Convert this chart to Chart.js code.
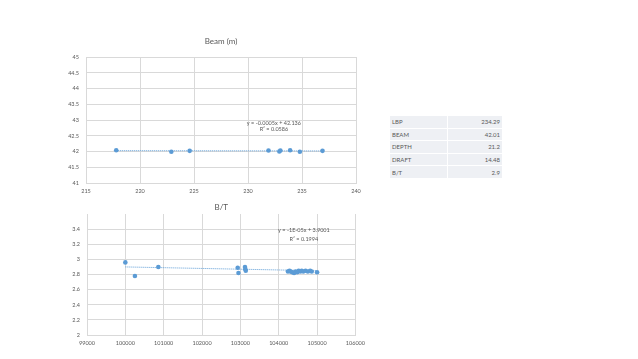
<!DOCTYPE html>
<html lang="en">
<head>
  <meta charset="UTF-8">
  <title>Beam and B/T</title>
  <script src="https://cdn.jsdelivr.net/npm/chart.js"></script>
  <style>
    body {
      margin: 0;
      background: #ffffff;
      font-family: Lato, "Open Sans", sans-serif;
      width: 638px;
      height: 359px;
      overflow: hidden;
      position: relative;
    }
    .box { position: absolute; }
    #box1 { left: 0; top: 0; width: 370px; height: 200px; }
    #box2 { left: 0; top: 200px; width: 370px; height: 159px; }
    /* summary table on the right */
    #summary {
      position: absolute;
      left: 390px;
      top: 116px;
      width: 112px;
      border-collapse: collapse;
      font-size: 6px;
      color: #595959;
    }
    #summary td {
      background: #eef0f4;
      height: 11.6px;
      padding: 0 2px;
      border-bottom: 1px solid #ffffff;
    }
    #summary td:first-child { border-right: 1px solid #ffffff; }
    #summary td.v { text-align: right; }
  </style>
</head>
<body>
  <div class="box" id="box1"><canvas id="beamChart"></canvas></div>
  <div class="box" id="box2"><canvas id="btChart"></canvas></div>
  <table id="summary"><tbody></tbody></table>

  <script>
    // Beam (m) against LBP
    const beamX = [217.8, 222.9, 224.6, 231.9, 232.9, 233.0, 233.9, 234.8, 236.9];
    const beamY = [42.04, 41.99, 42.02, 42.03, 42.00, 42.03, 42.04, 41.99, 42.02];
    const beamFit = [-0.0005, 42.136];           // slope, intercept
    const beamFitText = ['y = -0.0005x + 42.136', 'R² = 0.0586'];

    // B/T against displacement
    const btX = [100000, 100250, 100860, 102930, 102950, 103120, 103130, 103140,
                 104240, 104280, 104310, 104350, 104400, 104440, 104480, 104520,
                 104560, 104600, 104640, 104700, 104760, 104820, 104860, 105000];
    const btY = [2.96, 2.78, 2.90, 2.89, 2.82, 2.90, 2.87, 2.85,
                 2.84, 2.85, 2.84, 2.83, 2.82, 2.84, 2.83, 2.85,
                 2.84, 2.85, 2.84, 2.85, 2.84, 2.85, 2.84, 2.83];
    const btFit = [-1e-5, 3.9001];
    const btFitText = ['y = -1E-05x + 3.9001', 'R² = 0.1994'];

    // table rows
    const tableLabels = ['LBP', 'BEAM', 'DEPTH', 'DRAFT', 'B/T'];
    const tableValues = ['234.29', '42.01', '21.2', '14.48', '2.9'];

    const blue = '#5b9bd5';
    const grid = '#d9d9d9';
    const tickColor = '#595959';
    const fontFam = 'Lato, "Open Sans", sans-serif';

    const tbody = document.querySelector('#summary tbody');
    tableLabels.forEach((lab, i) => {
      const tr = document.createElement('tr');
      tr.innerHTML = '<td>' + lab + '</td><td class="v">' + tableValues[i] + '</td>';
      tbody.appendChild(tr);
    });

    function pts(xs, ys) {
      return xs.map((x, i) => ({ x: x, y: ys[i] }));
    }
    function fitLine(xs, fit) {
      const lo = Math.min(...xs), hi = Math.max(...xs);
      return [{ x: lo, y: fit[0] * lo + fit[1] }, { x: hi, y: fit[0] * hi + fit[1] }];
    }

    // draws the chart title and the trendline label
    const labelPlugin = {
      id: 'labels',
      afterDraw(chart, args, opts) {
        const ctx = chart.ctx;
        const a = chart.chartArea;
        ctx.save();
        ctx.fillStyle = tickColor;
        ctx.textAlign = 'center';
        ctx.textBaseline = 'middle';
        ctx.font = '8px ' + fontFam;
        ctx.fillText(opts.title, (a.left + a.right) / 2, opts.titleY);
        ctx.font = '5.5px ' + fontFam;
        const px = chart.scales.x.getPixelForValue(opts.at[0]);
        opts.text.forEach((t, i) => {
          ctx.fillText(t, px, chart.scales.y.getPixelForValue(opts.at[1 + i]));
        });
        ctx.restore();
      }
    };

    function makeChart(id, xs, ys, fit, cfg) {
      return new Chart(document.getElementById(id).getContext('2d'), {
        type: 'scatter',
        data: {
          datasets: [{
            data: pts(xs, ys),
            backgroundColor: blue,
            borderColor: blue,
            pointRadius: 2.3,
            pointBorderWidth: 0
          }, {
            type: 'line',
            data: fitLine(xs, fit),
            borderColor: blue,
            borderWidth: 1,
            borderDash: [1, 1],
            pointRadius: 0,
            fill: false
          }]
        },
        options: {
          responsive: true,
          maintainAspectRatio: false,
          animation: false,
          layout: { padding: { top: cfg.top, right: 14, left: 0, bottom: 0 } },
          plugins: {
            legend: { display: false },
            tooltip: { enabled: false },
            labels: { title: cfg.title, titleY: cfg.titleY, text: cfg.text, at: cfg.at }
          },
          scales: {
            x: {
              type: 'linear',
              min: cfg.xMin, max: cfg.xMax,
              afterFit: s => { s.height = cfg.xHeight; },
              grid: { color: grid, drawTicks: false },
              border: { color: grid },
              ticks: {
                stepSize: cfg.xStep,
                padding: 5,
                color: tickColor,
                font: { size: 5.5, family: fontFam },
                maxRotation: 0,
                callback: v => String(v)
              }
            },
            y: {
              min: cfg.yMin, max: cfg.yMax,
              afterFit: s => { s.width = cfg.yWidth; },
              afterBuildTicks: s => { s.ticks = s.ticks.filter(t => t.value <= cfg.yLast + 1e-9); },
              grid: { color: grid, drawTicks: false },
              border: { color: grid },
              ticks: {
                stepSize: cfg.yStep,
                padding: 7,
                color: tickColor,
                font: { size: 5.5, family: fontFam },
                callback: v => String(Number(v.toFixed(1)))
              }
            }
          }
        },
        plugins: [labelPlugin]
      });
    }

    makeChart('beamChart', beamX, beamY, beamFit, {
      top: 57, xHeight: 17, yWidth: 86, title: 'Beam (m)', titleY: 41,
      xMin: 215, xMax: 240, xStep: 5, yMin: 41, yMax: 45, yStep: 0.5, yLast: 45,
      text: beamFitText, at: [232.4, 42.91, 42.71]
    });

    makeChart('btChart', btX, btY, btFit, {
      top: 14, xHeight: 24, yWidth: 87, title: 'B/T', titleY: 7,
      xMin: 99000, xMax: 106000, xStep: 1000, yMin: 2, yMax: 3.6, yStep: 0.2, yLast: 3.4,
      text: btFitText, at: [104656, 3.39, 3.27]
    });
  </script>
</body>
</html>
